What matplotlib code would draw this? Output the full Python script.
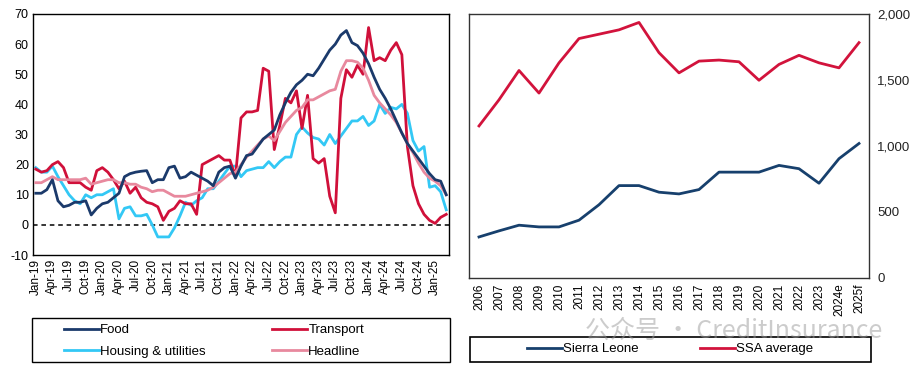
import matplotlib
matplotlib.use("Agg")
import matplotlib.pyplot as plt
from matplotlib.patches import Rectangle
import numpy as np

plt.rcParams['font.family'] = ['Liberation Sans', 'DejaVu Sans']

# ---------------- Data: left panel (monthly, Jan-19 .. Mar-25) ----------------
months = ["Jan", "Feb", "Mar", "Apr", "May", "Jun", "Jul", "Aug", "Sep", "Oct", "Nov", "Dec"]
month_labels = [f"{months[i % 12]}-{19 + i // 12}" for i in range(75)]

food = [10.5, 10.5, 11.7, 15, 8, 6, 6.5, 7.5, 7.5, 8, 3.3, 5.5,
        7, 7.5, 9, 10.5, 16, 17, 17.5, 17.8, 18, 14, 15, 15,
        19, 19.5, 15.5, 16, 17.5, 16.5, 15.5, 14.5, 13, 17.5, 19, 19.5,
        15.5, 19.5, 23, 23.5, 26, 28.5, 30, 31.5, 36.5, 40.5, 44, 46.5,
        48, 50, 49.5, 52, 55, 58, 60, 63, 64.5, 60.5, 59.5, 57,
        53.5, 49, 45, 42, 38.5, 34.5, 30.5, 27, 24.5, 22, 19.5, 17,
        15, 14.5, 10]

transport = [18.5, 17.5, 18, 20, 21, 19, 14, 14, 14, 12.5, 11.5, 18,
             19, 17.5, 15, 12, 14.5, 10.5, 12.5, 9, 7.5, 7, 6, 1.5,
             4.5, 5.5, 8, 7, 7, 3.5, 20, 21, 22, 23, 21.5, 21.5,
             16, 35.5, 37.5, 37.5, 38, 52, 51, 25, 33, 42, 40.5, 44.5,
             32, 43, 22, 20.5, 22, 9.5, 4, 42, 51.5, 49, 53, 50,
             65.5, 54.5, 55.5, 54.5, 58, 60.5, 56.5, 26, 13, 7, 3.5, 1.5,
             0.5, 2.5, 3.5]

housing = [19, 17.5, 17.5, 19.5, 16, 13, 10, 8, 7, 10, 9, 10,
           10, 11, 12, 2, 5.5, 6, 3, 3, 3.5, 0, -4, -4,
           -4, -1, 3, 7.5, 6.5, 8, 9, 12, 12, 14.5, 17, 19.5,
           19.5, 16, 18, 18.5, 19, 19, 21, 19, 21, 22.5, 22.5, 30,
           32.5, 30.5, 29, 28.5, 26.5, 30, 27, 29.5, 32, 34.5, 34.5, 36,
           33, 34.5, 40, 37, 39, 38.5, 40, 37, 28, 24.5, 26, 12.5,
           13, 11, 5]

headline = [14, 14, 15, 16, 15, 15, 15, 15, 15, 15.5, 13.5, 14,
            14.5, 15, 15, 14, 14, 13.5, 13.5, 12.5, 12, 11, 11.5, 11.5,
            10.5, 9.5, 9.5, 9.5, 10, 10.5, 11, 11.5, 12.5, 14, 15.5, 17,
            17.5, 20, 22.5, 24.5, 26.5, 28.5, 29.5, 28, 31, 34, 36, 38,
            39, 41.5, 41.5, 42.5, 43.5, 44.5, 45, 51, 54.5, 54.5, 54, 52,
            48, 43, 40.5, 38.5, 36.5, 34, 30.5, 27, 24, 20.5, 17.5, 15.5,
            14.5, 13, 10]

left_yticks = [-10, 0, 10, 20, 30, 40, 50, 60, 70]

# ---------------- Data: right panel (annual) ----------------
years = ["2006", "2007", "2008", "2009", "2010", "2011", "2012", "2013", "2014", "2015",
         "2016", "2017", "2018", "2019", "2020", "2021", "2022", "2023", "2024e", "2025f"]
sierra_leone = [311, 357, 400, 387, 387, 438, 555, 700, 700, 650,
                637, 670, 802, 802, 802, 853, 828, 718, 904, 1019]
ssa_average = [1152, 1350, 1572, 1401, 1630, 1814, 1847, 1880, 1936, 1707,
               1554, 1643, 1651, 1638, 1498, 1618, 1687, 1630, 1592, 1783]
right_yticks = [0, 500, 1000, 1500, 2000]

# ---------------- Styles ----------------
C_FOOD = "#1B3A6B"
C_TRANS = "#D0103A"
C_HOUS = "#33C8F5"
C_HEAD = "#E8899E"
C_SL = "#17406D"
C_SSA = "#D2133C"
FS = 8.5
LFS = 9.5

W, H = 917, 372
fig = plt.figure(figsize=(W / 100, H / 100), dpi=100)

def box(x0, y0, x1, y1):
    return [x0 / W, 1 - y1 / H, (x1 - x0) / W, (y1 - y0) / H]

def fx(px):
    return px / W

def fy(py):
    return 1 - py / H

def frame(x0, y0, x1, y1, lw=1.0):
    fig.patches.append(Rectangle((fx(x0), fy(y1)), fx(x1) - fx(x0), fy(y0) - fy(y1),
                                 transform=fig.transFigure, fill=False,
                                 edgecolor="black", linewidth=lw, zorder=5))

def col_legend(handles, labels, x_px, y_top_px):
    lg = fig.legend(handles=handles, labels=labels, loc="upper left",
                    bbox_to_anchor=(fx(x_px), fy(y_top_px)), frameon=False,
                    fontsize=LFS, handlelength=2.65, handletextpad=0.1,
                    borderpad=0.0, borderaxespad=0.0, labelspacing=0.72)
    return lg

# ---------------- Left panel ----------------
ax1 = fig.add_axes(box(33, 14, 449, 255))
x = np.arange(len(month_labels))
ax1.axhline(0, color="black", lw=1.1, ls=(0, (3, 2.5)), zorder=1)
l_food, = ax1.plot(x, food, color=C_FOOD, lw=2.0, label="Food", zorder=4)
l_trans, = ax1.plot(x, transport, color=C_TRANS, lw=2.0, label="Transport", zorder=3)
l_hous, = ax1.plot(x, housing, color=C_HOUS, lw=2.0, label="Housing & utilities", zorder=2)
l_head, = ax1.plot(x, headline, color=C_HEAD, lw=2.0, label="Headline", zorder=3.5)
ax1.set_xlim(-0.5, len(month_labels) - 0.5)
ax1.set_ylim(-10, 70)
ax1.set_yticks(left_yticks)
ax1.set_yticklabels([str(v) for v in left_yticks], fontsize=FS + 0.5)
ax1.set_xticks(x[::3])
ax1.set_xticklabels(month_labels[::3], rotation=90, fontsize=FS)
ax1.tick_params(length=0, pad=3)
for s in ax1.spines.values():
    s.set_color("black")
    s.set_linewidth(1.0)

frame(32, 318, 450, 362)
col_legend([l_food, l_hous], ["Food", "Housing & utilities"], 64, 324)
col_legend([l_trans, l_head], ["Transport", "Headline"], 272, 324)

# ---------------- Right panel ----------------
ax2 = fig.add_axes(box(469, 14, 869, 278))
xr = np.arange(len(years))
l_sl, = ax2.plot(xr, sierra_leone, color=C_SL, lw=2.0, label="Sierra Leone")
l_ssa, = ax2.plot(xr, ssa_average, color=C_SSA, lw=2.0, label="SSA average")
ax2.set_xlim(-0.5, len(years) - 0.5)
ax2.set_ylim(0, 2000)
ax2.yaxis.tick_right()
ax2.set_yticks(right_yticks)
ax2.set_yticklabels([f"{v:,}" for v in right_yticks], fontsize=FS + 1, color="#222222")
ax2.set_xticks(xr)
ax2.set_xticklabels(years, rotation=90, fontsize=FS)
ax2.tick_params(length=0, pad=6)
ax2.tick_params(axis="x", pad=4)
for s in ax2.spines.values():
    s.set_color("#333333")
    s.set_linewidth(1.0)

frame(470, 337, 871, 362, lw=1.2)
col_legend([l_sl], ["Sierra Leone"], 527, 343)
col_legend([l_ssa], ["SSA average"], 700, 343)

# watermark overlay
fig.text(585 / W, 1 - 331 / H, "公众号 · CreditInsurance", fontsize=18,
         color="#9a9a9a", alpha=0.5, ha="left", va="center",
         family=["Noto Sans CJK SC", "DejaVu Sans"], zorder=10)

fig.savefig("out.png", dpi=100)
